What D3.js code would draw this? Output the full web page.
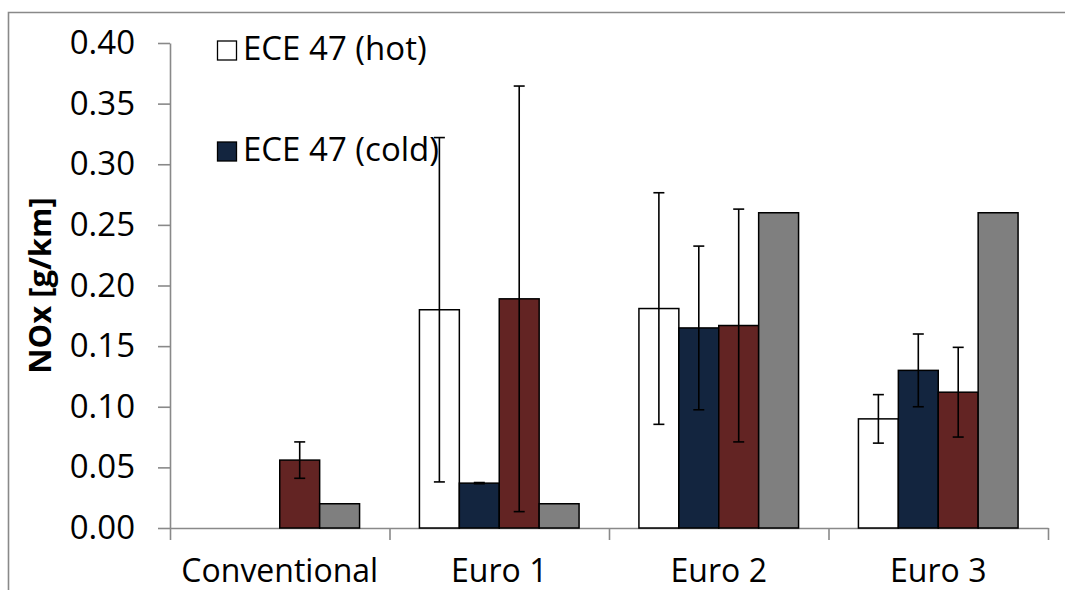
<!DOCTYPE html>
<html>
<head>
<meta charset="utf-8">
<script src="https://cdn.jsdelivr.net/npm/d3@7"></script>
<style>
  html, body { margin: 0; padding: 0; background: #fff; overflow: hidden; }
  svg { display: block; font-family: "Open Sans", "Noto Sans", sans-serif; }
</style>
</head>
<body>
<svg id="chart" width="1065" height="590"></svg>
<script>
// NOx emission factors per vehicle class
const categories = ["Conventional", "Euro 1", "Euro 2", "Euro 3"];
const hotValues   = [null, 0.180, 0.181, 0.090];
const hotErrors   = [null, 0.142, 0.0955, 0.020];
const coldValues  = [null, 0.037, 0.165, 0.130];
const coldErrors  = [null, 0.0005, 0.0675, 0.030];
const thirdValues = [0.056, 0.189, 0.167, 0.112];
const thirdErrors = [0.015, 0.1755, 0.096, 0.037];
const fourthValues = [0.020, 0.020, 0.260, 0.260];
const fourthErrors = [null, null, null, null];
const legendLabels = ["ECE 47 (hot)", "ECE 47 (cold)"];
const yTicks = [0, 0.05, 0.10, 0.15, 0.20, 0.25, 0.30, 0.35, 0.40];
const yTitle = "NOx [g/km]";

const seriesList = [
  { values: hotValues,    errors: hotErrors,    fill: "#ffffff" },
  { values: coldValues,   errors: coldErrors,   fill: "#13253f" },
  { values: thirdValues,  errors: thirdErrors,  fill: "#632423" },
  { values: fourthValues, errors: fourthErrors, fill: "#7f7f7f" }
];

const svg = d3.select("#chart");
const axisColor = "#898989";

// outer frame (top and left edges fall inside the page)
svg.append("path")
  .attr("d", "M1065,12.5H8.5V590")
  .attr("fill", "none").attr("stroke", axisColor).attr("stroke-width", 1.6);

const plotLeft = 170, plotRight = 1048, plotTop = 43, plotBottom = 528;

const y = d3.scaleLinear().domain([0, 0.4]).range([plotBottom, plotTop]);
const x = d3.scaleBand().domain(categories).range([plotLeft, plotRight]).paddingInner(0).paddingOuter(0);
// four bars per group, gap of 1.5 bar widths split across both sides
const barW = x.bandwidth() / 5.5;
const groupOffset = barW * 0.75;

// legend (drawn beneath the plotted marks)
const legend = svg.append("g").attr("class", "legend");
legendLabels.forEach((label, i) => {
  const gy = 41 + i * 101;
  legend.append("rect")
    .attr("x", 217.5).attr("y", gy)
    .attr("width", 19).attr("height", 19)
    .attr("fill", seriesList[i].fill)
    .attr("stroke", "#000").attr("stroke-width", 1.3);
  legend.append("text")
    .attr("x", 243).attr("y", gy + 19)
    .attr("font-size", 33).attr("fill", "#000")
    .text(label);
});

// y axis
const yAxis = svg.append("g")
  .attr("transform", `translate(${plotLeft},0)`)
  .call(d3.axisLeft(y).tickValues(yTicks).tickFormat(d => d.toFixed(2))
    .tickSize(12).tickSizeOuter(0).tickPadding(23));
yAxis.selectAll("path, line").attr("stroke", axisColor).attr("stroke-width", 1.6);
yAxis.selectAll("text").attr("font-size", 33).attr("fill", "#000")
  .attr("font-family", "Open Sans, sans-serif");

// x axis: boundary ticks
const xb = d3.scaleLinear().domain([0, categories.length]).range([plotLeft, plotRight]);
const xAxis = svg.append("g")
  .attr("transform", `translate(0,${plotBottom})`)
  .call(d3.axisBottom(xb).tickValues(d3.range(categories.length + 1))
    .tickFormat("").tickSize(12).tickSizeOuter(0));
xAxis.selectAll("path, line").attr("stroke", axisColor).attr("stroke-width", 1.6);

// x axis: category labels
const xLabels = svg.append("g")
  .attr("transform", `translate(0,${plotBottom})`)
  .call(d3.axisBottom(x).tickSize(0));
xLabels.select(".domain").remove();
xLabels.selectAll("text")
  .attr("y", 54).attr("dy", 0)
  .attr("font-size", 32).attr("fill", "#000")
  .attr("font-family", "Open Sans, sans-serif");

// bars
const bars = svg.append("g");
seriesList.forEach((s, si) => {
  categories.forEach((c, ci) => {
    const v = s.values[ci];
    if (v == null) return;
    bars.append("rect")
      .attr("x", x(c) + groupOffset + si * barW)
      .attr("y", y(v))
      .attr("width", barW)
      .attr("height", y(0) - y(v))
      .attr("fill", s.fill)
      .attr("stroke", "#000").attr("stroke-width", 1.5);
  });
});

// error bars
const errs = svg.append("g").attr("stroke", "#000").attr("stroke-width", 1.6);
const capW = 11;
seriesList.forEach((s, si) => {
  categories.forEach((c, ci) => {
    const v = s.values[ci], e = s.errors[ci];
    if (v == null || e == null) return;
    const cx = x(c) + groupOffset + si * barW + barW / 2;
    errs.append("line").attr("x1", cx).attr("x2", cx).attr("y1", y(v + e)).attr("y2", y(v - e));
    errs.append("line").attr("x1", cx - capW / 2).attr("x2", cx + capW / 2).attr("y1", y(v + e)).attr("y2", y(v + e));
    errs.append("line").attr("x1", cx - capW / 2).attr("x2", cx + capW / 2).attr("y1", y(v - e)).attr("y2", y(v - e));
  });
});

// y axis title
svg.append("text")
  .attr("transform", "translate(51,285.5) rotate(-90)")
  .attr("text-anchor", "middle")
  .attr("font-size", 31).attr("font-weight", "bold").attr("fill", "#000")
  .text(yTitle);
</script>
</body>
</html>
